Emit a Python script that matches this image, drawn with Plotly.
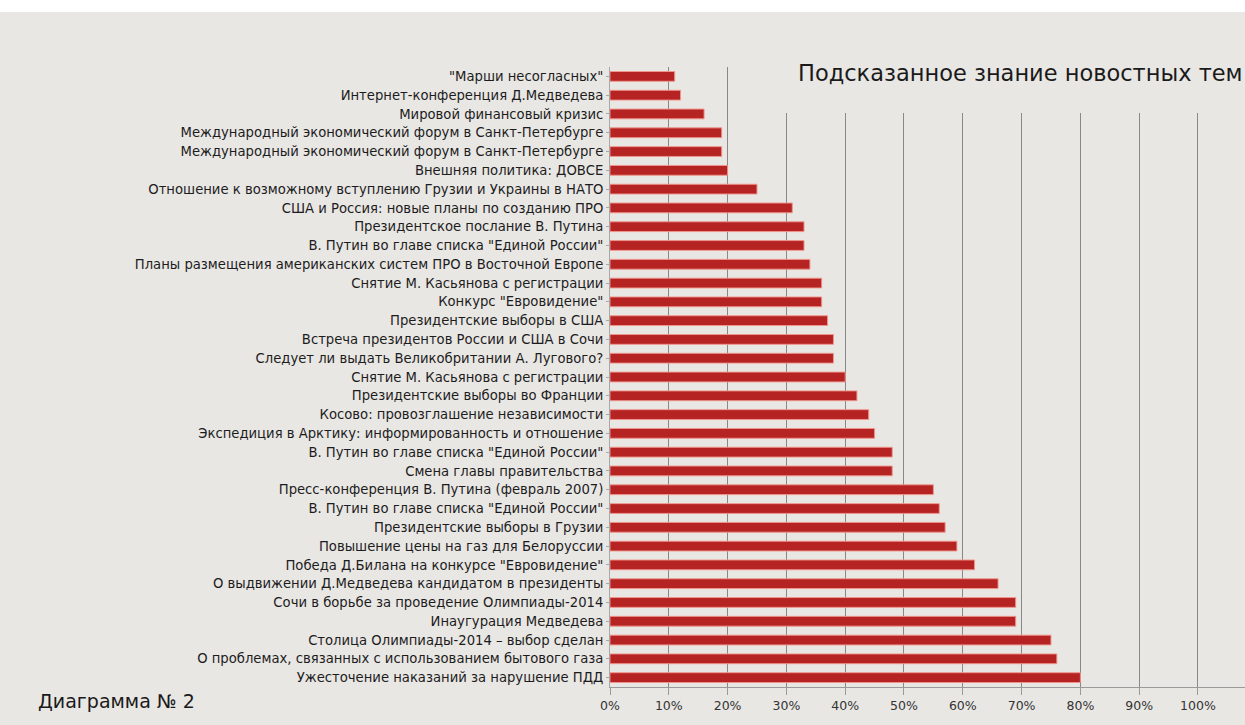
import plotly.graph_objects as go

# News topics (top to bottom) and share of respondents aware of each topic
topics = [
    '"Марши несогласных"',
    'Интернет-конференция Д.Медведева',
    'Мировой финансовый кризис',
    'Международный экономический форум в Санкт-Петербурге',
    'Международный экономический форум в Санкт-Петербурге',
    'Внешняя политика: ДОВСЕ',
    'Отношение к возможному вступлению Грузии и Украины в НАТО',
    'США и Россия: новые планы по созданию ПРО',
    'Президентское послание В. Путина',
    'В. Путин во главе списка "Единой России"',
    'Планы размещения американских систем ПРО в Восточной Европе',
    'Снятие М. Касьянова с регистрации',
    'Конкурс "Евровидение"',
    'Президентские выборы в США',
    'Встреча президентов России и США в Сочи',
    'Следует ли выдать Великобритании А. Лугового?',
    'Снятие М. Касьянова с регистрации',
    'Президентские выборы во Франции',
    'Косово: провозглашение независимости',
    'Экспедиция в Арктику: информированность и отношение',
    'В. Путин во главе списка "Единой России"',
    'Смена главы правительства',
    'Пресс-конференция В. Путина (февраль 2007)',
    'В. Путин во главе списка "Единой России"',
    'Президентские выборы в Грузии',
    'Повышение цены на газ для Белоруссии',
    'Победа Д.Билана на конкурсе "Евровидение"',
    'О выдвижении Д.Медведева кандидатом в президенты',
    'Сочи в борьбе за проведение Олимпиады-2014',
    'Инаугурация Медведева',
    'Столица Олимпиады-2014 – выбор сделан',
    'О проблемах, связанных с использованием бытового газа',
    'Ужесточение наказаний за нарушение ПДД',
]
awareness = [
    0.11, 0.12, 0.16, 0.19, 0.19, 0.20, 0.25, 0.31, 0.33, 0.33, 0.34,
    0.36, 0.36, 0.37, 0.38, 0.38, 0.40, 0.42, 0.44, 0.45, 0.48, 0.48,
    0.55, 0.56, 0.57, 0.59, 0.62, 0.66, 0.69, 0.69, 0.75, 0.76, 0.80,
]
x_ticks = [0.0, 0.1, 0.2, 0.3, 0.4, 0.5, 0.6, 0.7, 0.8, 0.9, 1.0]

title_text = "Подсказанное знание новостных тем"
caption_text = "Диаграмма № 2"

BG = "#e9e7e4"
FONT = "DejaVu Sans"

positions = list(range(len(topics)))

fig = go.Figure(
    go.Bar(
        x=awareness,
        y=positions,
        orientation="h",
        width=0.52,
        marker=dict(color="#b52323", line=dict(color="rgba(240,150,140,0.95)", width=1)),
        hoverinfo="skip",
    )
)

fig.update_layout(
    width=1245,
    height=725,
    margin=dict(l=610, r=0, t=67, b=38),
    paper_bgcolor=BG,
    plot_bgcolor=BG,
    showlegend=False,
    font=dict(family=FONT, color="#1c1c1c"),
)

fig.update_xaxes(
    range=[0, 1.08],
    tickvals=x_ticks,
    tickformat=".0%",
    showgrid=True,
    gridcolor="#888888",
    gridwidth=1,
    zeroline=False,
    showline=True,
    linecolor="#9a9a9a",
    linewidth=1,
    ticks="outside",
    ticklen=7,
    tickcolor="#9a9a9a",
    tickfont=dict(family=FONT, size=12.5, color="#333333"),
)

fig.update_yaxes(
    range=[len(topics) - 0.5, -0.5],
    tickvals=positions,
    ticktext=topics,
    showgrid=False,
    zeroline=False,
    showline=True,
    linecolor="#a8a8a8",
    linewidth=1,
    ticks="outside",
    ticklen=3,
    tickcolor="#a8a8a8",
    tickfont=dict(family=FONT, size=13.2, color="#1c1c1c"),
)

# Panel behind the chart heading hides the upper part of the gridlines
fig.add_shape(
    type="rect", xref="x", yref="y",
    x0=0.225, x1=1.08, y0=-0.5, y1=1.95,
    fillcolor=BG, line=dict(width=0), layer="above",
)
# White strip along the top edge of the page
fig.add_shape(
    type="rect", xref="paper", yref="paper",
    x0=-0.97, x1=1.0, y0=1.0887, y1=1.12,
    fillcolor="white", line=dict(width=0), layer="above",
)

fig.add_annotation(
    text=title_text, xref="paper", yref="paper",
    x=1.0, y=(687 - 73) / 620, xanchor="right", yanchor="middle",
    showarrow=False, font=dict(family=FONT, size=22.5, color="#1a1a1a"),
)
fig.add_annotation(
    text=caption_text, xref="paper", yref="paper",
    x=(36 - 610) / 635, y=(687 - 701) / 620, xanchor="left", yanchor="middle",
    showarrow=False, font=dict(family=FONT, size=19, color="#1a1a1a"),
)

fig.write_html("out.html")
